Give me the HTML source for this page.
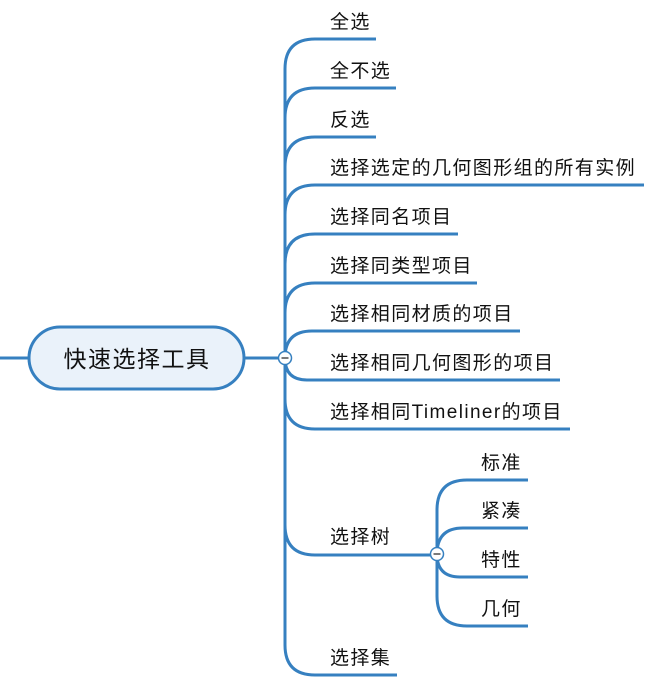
<!DOCTYPE html>
<html><head><meta charset="utf-8"><style>
html,body{margin:0;padding:0;background:#fff;}
svg{display:block}
text{font-family:"Liberation Sans","Noto Sans CJK SC",sans-serif;font-size:19px;letter-spacing:1.4px;fill:#111;}
</style></head><body>
<svg width="662" height="689" viewBox="0 0 662 689" xmlns="http://www.w3.org/2000/svg">
<g fill="none" stroke="#3680c0" stroke-width="3" stroke-linecap="butt">
<line x1="0" y1="358" x2="30" y2="358"/>
<line x1="244" y1="358" x2="279" y2="358"/>
<path d="M285,358 L285,69 Q285,39 315,39 L376,39"/>
<path d="M285,118 Q285,88 315,88 L396,88"/>
<path d="M285,167 Q285,137 315,137 L376,137"/>
<path d="M285,215 Q285,185 315,185 L644,185"/>
<path d="M285,264 Q285,234 315,234 L458,234"/>
<path d="M285,313 Q285,283 315,283 L477,283"/>
<path d="M285,358 Q285,331 312,331 L520,331"/>
<path d="M285,358 Q285,380 307,380 L560,380"/>
<path d="M285,358 L285,399 Q285,429 315,429 L570,429"/>
<path d="M285,399 L285,525 Q285,555 315,555 L431,555"/>
<path d="M285,520 L285,645 Q285,675 315,675 L397,675"/>
<path d="M437,554 L437,510 Q437,480 467,480 L528,480"/>
<path d="M437,554 Q437,528 463,528 L528,528"/>
<path d="M437,554 Q437,577 460,577 L528,577"/>
<path d="M437,554 L437,596 Q437,626 467,626 L528,626"/>
</g>
<rect x="29" y="327" width="215" height="62" rx="31" fill="#eaf2fa" stroke="#3680c0" stroke-width="3"/>
<text x="137" y="367" text-anchor="middle" style="font-size:23px;letter-spacing:1.5px">快速选择工具</text>
<circle cx="285" cy="358" r="6.5" fill="#fff" stroke="#3680c0" stroke-width="1.5"/>
<line x1="281.5" y1="358" x2="288.5" y2="358" stroke="#333" stroke-width="1.3"/>
<circle cx="437" cy="554" r="6.5" fill="#fff" stroke="#3680c0" stroke-width="1.5"/>
<line x1="433.5" y1="554" x2="440.5" y2="554" stroke="#333" stroke-width="1.3"/>
<text x="330" y="28">全选</text>
<text x="330" y="77">全不选</text>
<text x="330" y="126">反选</text>
<text x="330" y="174">选择选定的几何图形组的所有实例</text>
<text x="330" y="223">选择同名项目</text>
<text x="330" y="272">选择同类型项目</text>
<text x="330" y="320">选择相同材质的项目</text>
<text x="330" y="369">选择相同几何图形的项目</text>
<text x="330" y="418">选择相同Timeliner的项目</text>
<text x="330" y="543">选择树</text>
<text x="330" y="664">选择集</text>
<text x="481" y="469">标准</text>
<text x="481" y="517">紧凑</text>
<text x="481" y="566">特性</text>
<text x="481" y="615">几何</text>
</svg>
</body></html>
